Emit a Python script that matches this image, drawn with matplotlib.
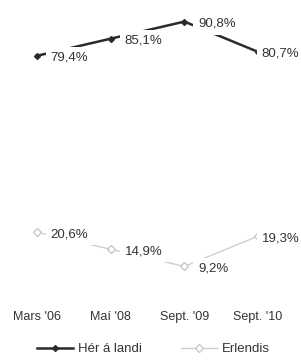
import matplotlib.pyplot as plt

categories = ["Mars '06", "Maí '08", "Sept. '09", "Sept. '10"]
her_a_landi = [79.4, 85.1, 90.8, 80.7]
erlendis = [20.6, 14.9, 9.2, 19.3]
her_labels = ['79,4%', '85,1%', '90,8%', '80,7%']
erl_labels = ['20,6%', '14,9%', '9,2%', '19,3%']

plt.rcParams['font.family'] = ['Liberation Sans', 'DejaVu Sans']

fig = plt.figure(figsize=(3.01, 3.6), dpi=100)
ax = fig.add_axes([0.0, 66 / 360, 0.98, 294 / 360])
x = list(range(len(categories)))

ax.plot(x, her_a_landi, color='#2b2b2b', lw=1.8, marker='D', ms=3,
        label='Hér á landi', zorder=2)
ax.plot(x, erlendis, color='#d0d0d0', lw=1.0, marker='D', ms=4,
        mfc='white', mec='#c8c8c8', label='Erlendis', zorder=2)

offsets = [10, 10, 10, 2.5]
for i in x:
    for vals, labs in ((her_a_landi, her_labels), (erlendis, erl_labels)):
        ax.annotate(labs[i], (i, vals[i]), xytext=(offsets[i], -1.5),
                    textcoords='offset points', ha='left', va='center',
                    fontsize=9.5, color='#333333', zorder=3,
                    bbox=dict(facecolor='white', edgecolor='none', pad=3.5))

ax.set_xlim(-0.5, 3.5)
ax.set_ylim(0, 98)
ax.set_xticks(x)
ax.set_xticklabels(categories, fontsize=9, color='#333333')
ax.set_yticks([])
ax.tick_params(axis='x', length=0, pad=12)
for s in ax.spines.values():
    s.set_visible(False)

fig.legend(loc='center', bbox_to_anchor=(0.51, 11 / 360), ncol=2, frameon=False,
           fontsize=9.5, handlelength=2.7, columnspacing=3, handletextpad=0.4,
           labelcolor='#333333')

fig.savefig('out.png', dpi=100)
